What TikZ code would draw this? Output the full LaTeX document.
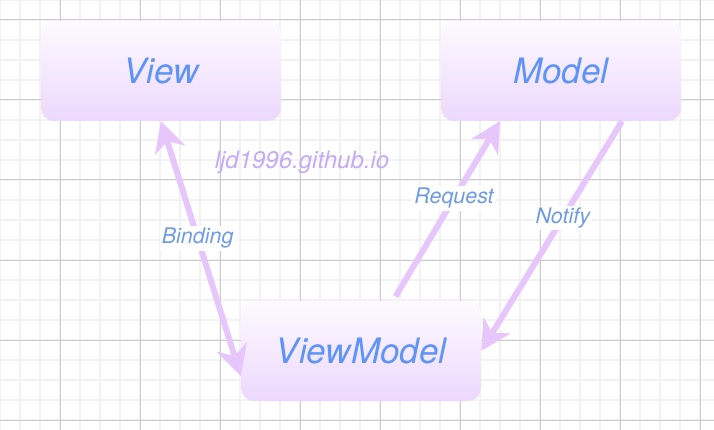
\documentclass[tikz,border=0pt]{standalone}
\usepackage{fontspec}
\setmainfont{TeX Gyre Heros}
\usetikzlibrary{arrows.meta}
\definecolor{gridminor}{HTML}{F2F2F2}
\definecolor{gridmajor}{HTML}{CCCCCC}
\definecolor{boxtop}{HTML}{FDFAFF}
\definecolor{boxbot}{HTML}{ECD8FC}
\definecolor{boxtext}{HTML}{5E93F8}
\definecolor{labeltext}{HTML}{6F9BE6}
\definecolor{arrowcol}{HTML}{E6C6FB}
\definecolor{marktext}{HTML}{C4AAF8}
\begin{document}
\begin{tikzpicture}[x=1pt,y=-1pt,
    >={Stealth[length=30pt,width=31pt,inset=9pt]},
    layer/.style={rounded corners=13pt,minimum width=240pt,minimum height=100pt,
      top color=boxtop,bottom color=boxbot,text=boxtext,
      font=\fontsize{35}{40}\selectfont\itshape},
    link/.style={line width=6pt,draw=arrowcol,->},
    tag/.style={fill=white,inner sep=2pt,text=labeltext,
      font=\fontsize{21.5}{24}\selectfont\itshape}]
  \useasboundingbox (0,0) rectangle (714,430);
  \fill[white] (0,0) rectangle (714,430);
  % grid
  \foreach \x in {0,20,...,700} \draw[gridminor,line width=2pt] (\x,0) -- (\x,430);
  \foreach \y in {0,20,...,420} \draw[gridminor,line width=2pt] (0,\y) -- (714,\y);
  \foreach \x in {60,140,...,700} \draw[gridmajor,line width=1pt] (\x,0) -- (\x,430);
  \foreach \y in {20,100,...,420} \draw[gridmajor,line width=1pt] (0,\y) -- (714,\y);
  % boxes
  \node[layer] (V) at (161,71) {View};
  \node[layer] (M) at (561,71) {Model};
  \node[layer] (VM) at (361,351) {ViewModel};
  \node[text=marktext,font=\fontsize{24}{28}\selectfont\itshape] (mark) at (302,162) {ljd1996.github.io};
  % links
  \draw[link,<->] (V.south) -- node[tag,pos=.46] {Binding} ([yshift=-25pt]VM.west);
  \draw[link,shorten <=5pt] ([xshift=32pt]VM.north) -- node[tag,pos=.57] {Request} ([xshift=-61pt]M.south);
  \draw[link] ([xshift=61pt]M.south) -- node[tag,pos=.42] {Notify} (VM.east);
\end{tikzpicture}
\end{document}
